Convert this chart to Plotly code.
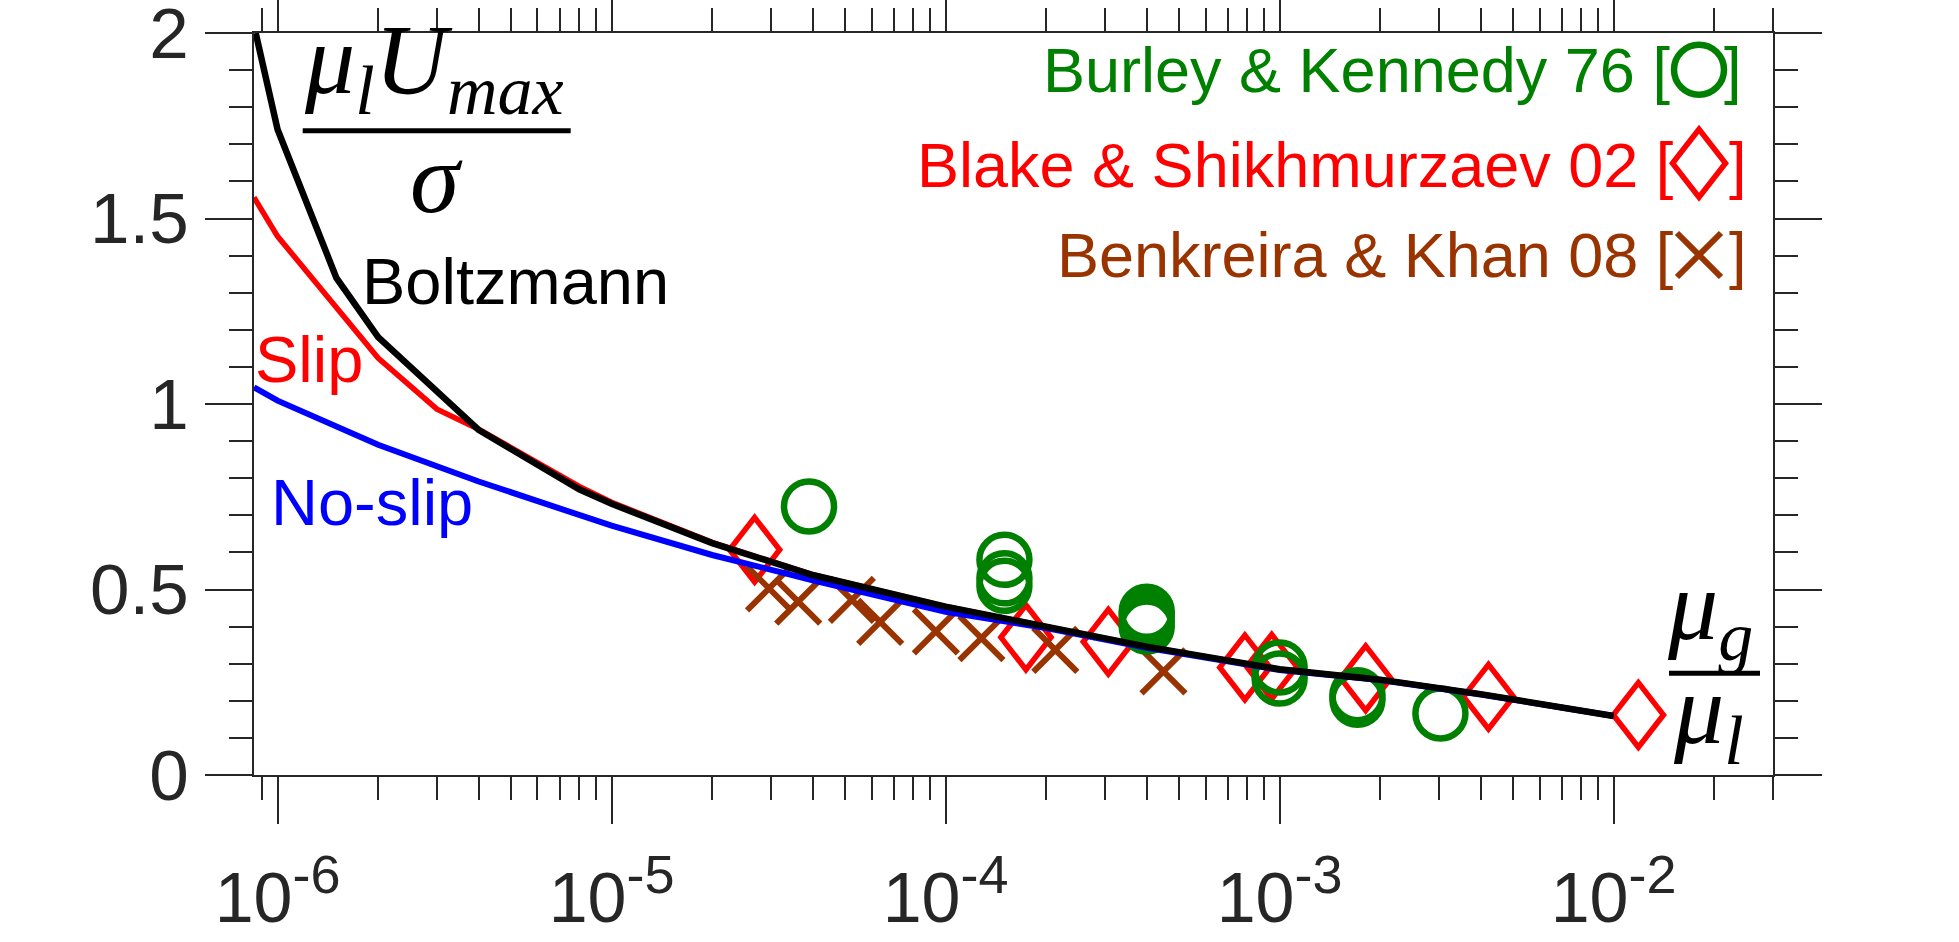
import numpy as np
import plotly.graph_objects as go

# ---------------- data ----------------
# Model curves
x_boltz = [8.6e-7, 1e-6, 1.5e-6, 2e-6, 4e-6, 8e-6, 1e-5, 2e-5, 4e-5, 1e-4, 2e-4, 4e-4, 1e-3, 2e-3, 4e-3, 1e-2]
y_boltz = [2.0, 1.74, 1.34, 1.18, 0.93, 0.77, 0.731, 0.625, 0.539, 0.454, 0.40, 0.346, 0.285, 0.257, 0.218, 0.159]

x_slip = [8.5e-7, 1e-6, 2e-6, 3e-6, 4e-6, 8e-6, 1e-5, 2e-5, 4e-5, 1e-4, 2e-4, 4e-4, 1e-3, 2e-3, 4e-3, 1e-2]
y_slip = [1.557, 1.452, 1.124, 0.986, 0.932, 0.778, 0.735, 0.627, 0.540, 0.454, 0.40, 0.346, 0.285, 0.257, 0.218, 0.159]

x_noslip = [8.5e-7, 1e-6, 2e-6, 4e-6, 1e-5, 2e-5, 4e-5, 1e-4, 2e-4, 4e-4, 1e-3, 2e-3, 4e-3, 1e-2]
y_noslip = [1.045, 1.009, 0.890, 0.791, 0.672, 0.593, 0.525, 0.440, 0.396, 0.343, 0.283, 0.256, 0.217, 0.159]

# Experiments
x_burley = [3.9e-5, 1.5e-4, 1.5e-4, 1.5e-4, 4e-4, 4e-4, 4e-4, 4e-4, 1e-3, 1e-3, 1.71e-3, 1.71e-3, 3.03e-3]
y_burley = [0.724, 0.580, 0.530, 0.510, 0.440, 0.430, 0.415, 0.400, 0.290, 0.260, 0.215, 0.203, 0.166]

x_blake = [2.68e-5, 1.74e-4, 3.07e-4, 7.87e-4, 9.47e-4, 1.81e-3, 4.22e-3, 1.186e-2]
y_blake = [0.607, 0.371, 0.359, 0.290, 0.292, 0.261, 0.211, 0.162]

x_benk = [2.96e-5, 3.62e-5, 5.24e-5, 6.37e-5, 9.35e-5, 1.28e-4, 2.13e-4, 4.49e-4]
y_benk = [0.503, 0.467, 0.472, 0.413, 0.387, 0.369, 0.337, 0.279]

x_tickvals = [1e-6, 1e-5, 1e-4, 1e-3, 1e-2]
x_ticktext = ["10<sup><span style='font-size:54px'>-%d</span></sup>" % k for k in (6, 5, 4, 3, 2)]
y_tickvals = [0, 0.5, 1, 1.5, 2]
y_ticktext = ["0", "0.5", "1", "1.5", "2"]

legend_labels = ["Burley & Kennedy 76", "Blake & Shikhmurzaev 02", "Benkreira & Khan 08"]

# ---------------- styling ----------------
AX = "#262626"
GREEN = "#008000"
RED = "#FF0000"
BROWN = "#993300"
BLUE = "#0000FF"
SANS = "Liberation Sans"
SERIF = "Liberation Serif"

W, H = 1959, 942
L, R, T, B = 254, 1773, 33, 775  # plot box in pixels


def px(x):
    return (x - L) / (R - L)


def py(y):
    return (B - y) / (B - T)


def diamond_outline(xs, ys, half_w, half_h, logx=True):
    """open-diamond outlines built around given points."""
    ox, oy = [], []
    for x, y in zip(xs, ys):
        if logx:
            lx = np.log10(x)
            xl, xr, xm = 10 ** (lx - half_w), 10 ** (lx + half_w), 10 ** (lx - half_w / 2)
        else:
            xl, xr, xm = x - half_w, x + half_w, x - half_w / 2
        ox += [xm, x, xr, x, xl, xm, None]
        oy += [y + half_h / 2, y + half_h, y, y - half_h, y, y + half_h / 2, None]
    return ox, oy


fig = go.Figure()

# experimental data
dx, dy = diamond_outline(x_blake, y_blake, 0.075, 0.087)
fig.add_trace(go.Scatter(x=dx, y=dy, mode="lines", line=dict(color=RED, width=5.5),
                         hoverinfo="skip", showlegend=False, name=legend_labels[1]))
fig.add_trace(go.Scatter(x=x_benk, y=y_benk, mode="markers", showlegend=False,
                         name=legend_labels[2],
                         marker=dict(symbol="x-thin-open", size=44, color=BROWN,
                                     line=dict(color=BROWN, width=6))))
fig.add_trace(go.Scatter(x=x_burley, y=y_burley, mode="markers", showlegend=False,
                         name=legend_labels[0],
                         marker=dict(symbol="circle-open", size=50, color=GREEN,
                                     line=dict(color=GREEN, width=6.5))))

# model curves
fig.add_trace(go.Scatter(x=x_slip, y=y_slip, mode="lines", line=dict(color=RED, width=5.5),
                         showlegend=False, name="Slip"))
fig.add_trace(go.Scatter(x=x_noslip, y=y_noslip, mode="lines", line=dict(color=BLUE, width=6),
                         showlegend=False, name="No-slip"))
fig.add_trace(go.Scatter(x=x_boltz, y=y_boltz, mode="lines", line=dict(color="#000000", width=6.5),
                         showlegend=False, name="Boltzmann"))

# legend keys drawn on an overlay (0..1) axis pair
key_x = px(1699)
key_y = [py(69.7), py(163.3), py(255)]
fig.add_trace(go.Scatter(x=[key_x], y=[key_y[0]], xaxis="x2", yaxis="y2", mode="markers",
                         showlegend=False, hoverinfo="skip",
                         marker=dict(symbol="circle-open", size=50, color=GREEN,
                                     line=dict(color=GREEN, width=6.5))))
kx, ky = diamond_outline([key_x], [key_y[1]], 26.5 / (R - L), 34.0 / (B - T), logx=False)
fig.add_trace(go.Scatter(x=kx, y=ky, xaxis="x2", yaxis="y2", mode="lines",
                         showlegend=False, hoverinfo="skip", line=dict(color=RED, width=5.5)))
fig.add_trace(go.Scatter(x=[key_x], y=[key_y[2]], xaxis="x2", yaxis="y2", mode="markers",
                         showlegend=False, hoverinfo="skip",
                         marker=dict(symbol="x-thin-open", size=44, color=BROWN,
                                     line=dict(color=BROWN, width=6))))

minor_x = [k * 10.0 ** e for e in range(-7, -1) for k in range(2, 10)]

xaxis = dict(
    type="log", range=[np.log10(8.5e-7), np.log10(3e-2)],
    tickmode="array", tickvals=x_tickvals, ticktext=x_ticktext,
    ticks="outside", ticklen=47, tickwidth=2, tickcolor=AX,
    showline=True, linewidth=2, linecolor=AX, mirror="allticks",
    showgrid=False, zeroline=False, automargin=False, ticklabelstandoff=14,
    ticklabeloverflow="allow",
    tickfont=dict(family=SANS, size=70, color=AX),
    minor=dict(tickmode="array", tickvals=minor_x, ticks="outside", ticklen=23,
               tickwidth=2, tickcolor=AX, showgrid=False),
)
yaxis = dict(
    range=[0, 2], tickmode="array", tickvals=y_tickvals, ticktext=y_ticktext,
    ticks="outside", ticklen=47, tickwidth=2, tickcolor=AX,
    showline=True, linewidth=2, linecolor=AX, mirror="allticks",
    showgrid=False, zeroline=False, ticklabelstandoff=2, automargin=False,
    ticklabeloverflow="allow",
    tickfont=dict(family=SANS, size=71, color=AX),
    minor=dict(tick0=0, dtick=0.1, ticks="outside", ticklen=23, tickwidth=2,
               tickcolor=AX, showgrid=False),
)

ann = []


def add_text(text, x, y, color, size, family=SANS, xanchor="left"):
    ann.append(dict(text=text, x=px(x), y=py(y), xref="paper", yref="paper",
                    xanchor=xanchor, yanchor="middle", showarrow=False,
                    font=dict(family=family, size=size, color=color)))


add_text("Boltzmann", 360, 281, "#000000", 65)
add_text("Slip", 253, 359, RED, 65)
add_text("No-slip", 269, 502, BLUE, 65)

# legend texts, brackets around the keys
legend_colors = [GREEN, RED, BROWN]
legend_mid_y = [70, 165, 255]
left_bracket_x = [1672, 1676, 1676]
right_bracket_x = [1722, 1727, 1727]
for lab, col, yy, lbx, rbx in zip(legend_labels, legend_colors, legend_mid_y,
                                  left_bracket_x, right_bracket_x):
    add_text(lab + " [", lbx, yy, col, 63, xanchor="right")
    add_text("]", rbx, yy, col, 63, xanchor="left")

# math labels
add_text("<i>μ<sub>l</sub>U<sub>max</sub></i>", 434, 66, "#000000", 100, family=SERIF, xanchor="center")
add_text("<i>σ</i>", 436, 178, "#000000", 100, family=SERIF, xanchor="center")
add_text("<i>μ<sub>g</sub></i>", 1710, 612, "#000000", 100, family=SERIF, xanchor="center")
add_text("<i>μ<sub>l</sub></i>", 1708, 716, "#000000", 100, family=SERIF, xanchor="center")

shapes = [
    dict(type="line", xref="paper", yref="paper", x0=px(302.7), x1=px(570.7),
         y0=py(130.7), y1=py(130.7), line=dict(color="#000000", width=5)),
    dict(type="line", xref="paper", yref="paper", x0=px(1669), x1=px(1760),
         y0=py(673.3), y1=py(673.3), line=dict(color="#000000", width=5)),
]

fig.update_layout(
    width=W, height=H, autosize=False,
    margin=dict(l=L, r=W - R, t=T, b=H - B, pad=0),
    paper_bgcolor="white", plot_bgcolor="white",
    showlegend=False, annotations=ann, shapes=shapes,
    xaxis=xaxis, yaxis=yaxis,
    xaxis2=dict(domain=[0, 1], range=[0, 1], overlaying="x", anchor="y2", visible=False,
                fixedrange=True),
    yaxis2=dict(domain=[0, 1], range=[0, 1], overlaying="y", anchor="x2", visible=False,
                fixedrange=True),
)

fig.write_html("out.html")
